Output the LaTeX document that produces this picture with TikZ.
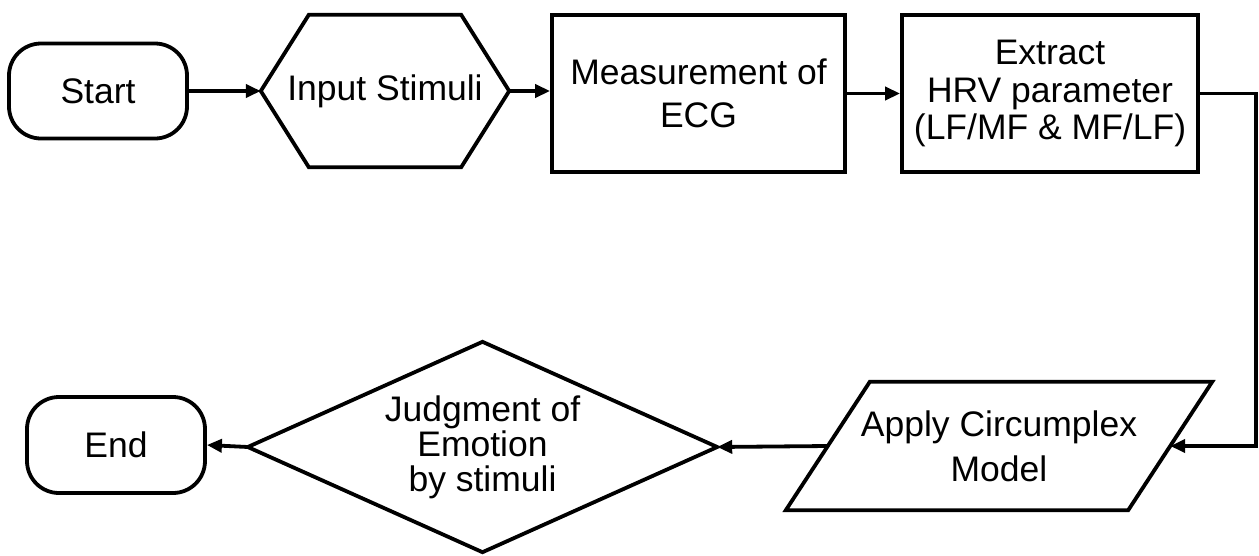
\documentclass[tikz,border=0pt]{standalone}
\usepackage{fontspec}
\setmainfont{Liberation Sans}
\usetikzlibrary{arrows.meta}
\begin{document}
\begin{tikzpicture}[x=1pt,y=-1pt,
  every node/.style={font=\fontsize{35.5}{40}\selectfont, inner sep=0pt, align=center},
  term/.style={draw, line width=3.8pt, rounded corners=32pt, minimum width=178pt, minimum height=95pt},
  procbox/.style={draw, line width=3.8pt, minimum height=157pt},
  outline/.style={line width=3.8pt, line join=miter},
  arr/.style={line width=3.8pt, -{Triangle[length=15pt,width=13pt]}}
]
\useasboundingbox (0,0) rectangle (1259,555);
% top row
\node[term] (start) at (98,91) {Start};
\node[minimum width=248pt, minimum height=152pt] (hex) at (385,91) {Input Stimuli};
\draw[outline] (hex.west) -- ([xshift=48pt]hex.north west) -- ([xshift=-48pt]hex.north east)
  -- (hex.east) -- ([xshift=-48pt]hex.south east) -- ([xshift=48pt]hex.south west) -- cycle;
\node[procbox, minimum width=293pt, font=\fontsize{35.5}{43}\selectfont] (meas) at (698.5,93.5) {Measurement of\\ECG};
\node[procbox, minimum width=296pt, font=\fontsize{35.5}{37.5}\selectfont] (ext) at (1050,93.5) {Extract\\HRV parameter\\(LF/MF \& MF/LF)};
% bottom row
\node[minimum width=426pt, minimum height=128pt, font=\fontsize{35.5}{45}\selectfont] (para) at (999,446) {Apply Circumplex\\Model};
\draw[outline] (para.south west) -- ([xshift=84pt]para.north west) -- (para.north east)
  -- ([xshift=-84pt]para.south east) -- cycle;
\coordinate (pr) at ([xshift=-42pt]para.east);
\coordinate (pl) at ([xshift=42pt]para.west);
\node[minimum width=469pt, minimum height=210pt, font=\fontsize{35.5}{35}\selectfont] (dia) at (482.5,447) {Judgment of\\Emotion\\by stimuli};
\draw[outline] (dia.west) -- (dia.north) -- (dia.east) -- (dia.south) -- cycle;
\node[term, minimum height=96pt] (end) at (116,445) {End};
% connectors
\draw[arr] (start.east) -- (hex.west);
\draw[arr] (hex.east) -- (hex.east -| meas.west);
\draw[arr] (meas.east) -- (ext.west);
\draw[arr] (ext.east) -- ++(56,0) |- (pr);
\draw[arr] (pl) -- (dia.east);
\draw[arr] (dia.west) -- (end.east);
\end{tikzpicture}
\end{document}
